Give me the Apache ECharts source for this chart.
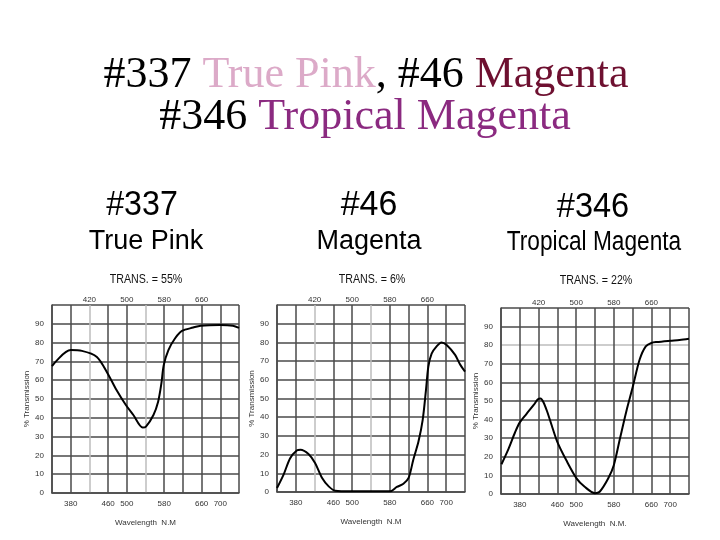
<!DOCTYPE html>
<html>
<head>
<meta charset="utf-8">
<script src="https://cdn.jsdelivr.net/npm/echarts@6/dist/echarts.min.js"></script>
<style>
  html, body { margin: 0; padding: 0; background: #fff; }
  #main { width: 720px; height: 540px; }
</style>
</head>
<body>
<div id="main"></div>
<script>
// 横轴刻度（波长 nm），每格 40
const bottomLabels = [380, 460, 500, 580, 660, 700];
const topLabels = [420, 500, 580, 660];
const yLabels = [0, 10, 20, 30, 40, 50, 60, 70, 80, 90];

// #337 True Pink
const pinkNm = [340, 380, 404, 436, 459, 478, 498, 514, 534, 541, 557, 567, 574, 579, 589, 603, 618, 642, 658, 699, 727, 740];
const pinkT  = [67.5, 76, 75.6, 72.4, 63.6, 54.8, 46.8, 41.5, 34.8, 35.3, 41.5, 48.6, 58.3, 68, 76, 82.2, 86.2, 88, 89, 89.4, 89, 87.8];

// #46 Magenta
const magNm = [340, 354, 368, 382, 390, 407, 421, 436, 450, 464, 496, 581, 595, 609, 620, 630, 641, 650, 657, 662, 669, 680, 690, 701, 719, 729, 740];
const magT  = [2.1, 9.3, 18.1, 22.2, 22.6, 20.3, 15.5, 7.5, 3, 0.7, 0.4, 0.4, 2.7, 4.4, 7.5, 17.3, 27, 38.6, 54.6, 67, 74, 78, 80, 78.6, 73.3, 68.5, 64.4];

// #346 Tropical Magenta
const tropNm = [341, 356, 370, 380, 394, 410, 418, 424, 430, 438, 448, 460, 479, 501, 518, 540, 550, 568, 580, 593, 607, 620, 635, 648, 660, 671, 700, 720, 740];
const tropT  = [16, 24.3, 33.2, 38.5, 43, 48, 50.8, 51.3, 49.5, 44.5, 36.8, 27.9, 18.1, 8.3, 3.9, 0.4, 1.2, 8.3, 15.5, 29.7, 44.8, 57.2, 72.3, 79.4, 81.2, 81.7, 82.4, 82.8, 83.5];

const panels = [
  { num: "#337", name: "True Pink", trans: "TRANS. = 55%", nm: pinkNm, t: pinkT,
    grid: { left: 52, top: 305, width: 187, height: 188 }, xName: "Wavelength  N.M",
    lightX: [2, 5], lightY: [], head: [142, 205, 0.92, 146, 242, 1, 146, 279] },
  { num: "#46", name: "Magenta", trans: "TRANS. = 6%", nm: magNm, t: magT,
    grid: { left: 277, top: 305, width: 188, height: 187 }, xName: "Wavelength  N.M",
    lightX: [2, 5], lightY: [], head: [369, 205, 0.97, 369, 242, 1, 372, 279] },
  { num: "#346", name: "Tropical Magenta", trans: "TRANS. = 22%", nm: tropNm, t: tropT,
    grid: { left: 501, top: 308, width: 188, height: 186 }, xName: "Wavelength  N.M.",
    lightX: [], lightY: [8], head: [593, 207, 0.93, 594, 243, 0.84, 596, 280] }
];

const dark = "#4a4a4a";
const light = "#bdbdbd";
function lineColors(n, lightIdx) {
  let arr = [];
  for (let i = 0; i < n; i++) arr.push(lightIdx.indexOf(i) >= 0 ? light : dark);
  return arr;
}

const axisText = { fontFamily: "Liberation Sans", fontSize: 8, color: "#333" };
const serif = { fontFamily: "Liberation Serif", fontSize: 44, fontWeight: "normal", lineHeight: 44 };

let option = {
  backgroundColor: "#fff",
  animation: false,
  title: [
    {
      left: 361, top: 48, textAlign: "center",
      text: "{k|#337 }{p|True Pink}{k|, #46 }{m|Magenta}",
      textStyle: {
        fontWeight: "normal",
        rich: {
          k: Object.assign({ color: "#000" }, serif),
          p: Object.assign({ color: "#dcaac8" }, serif),
          m: Object.assign({ color: "#6e1030" }, serif)
        }
      }
    },
    {
      left: 360, top: 90, textAlign: "center",
      text: "{k|#346 }{t|Tropical Magenta}",
      textStyle: {
        fontWeight: "normal",
        rich: {
          k: Object.assign({ color: "#000" }, serif),
          t: Object.assign({ color: "#8b2a80" }, serif)
        }
      }
    }
  ],
  graphic: [],
  grid: [],
  xAxis: [],
  yAxis: [],
  series: []
};

panels.forEach((p, i) => {
  const h = p.head;
  // 每个图的标题：编号、名称、透光率
  option.graphic.push(
    { type: "text", x: h[0], y: h[1], scaleX: h[2],
      style: { text: p.num, font: "35px 'Liberation Sans'", fill: "#000", align: "center", verticalAlign: "middle" } },
    { type: "text", x: h[3], y: h[4], scaleX: h[5],
      style: { text: p.name, font: "27px 'Liberation Sans'", fill: "#000", align: "center", verticalAlign: "middle" } },
    { type: "text", x: h[6], y: h[7], scaleX: 0.82,
      style: { text: p.trans, font: "13px 'Liberation Sans'", fill: "#111", align: "center", verticalAlign: "middle" } }
  );

  option.grid.push(p.grid);

  // 下方横轴
  option.xAxis.push({
    type: "value", gridIndex: i, min: 340, max: 740, interval: 40,
    name: p.xName, nameLocation: "middle", nameGap: 26,
    nameTextStyle: axisText,
    axisLine: { show: true, lineStyle: { color: dark, width: 1.5 } },
    axisTick: { show: false },
    axisLabel: Object.assign({ margin: 7, showMinLabel: true, showMaxLabel: true,
      formatter: (v) => (bottomLabels.indexOf(v) >= 0 ? String(v) : "") }, axisText),
    splitLine: { show: true, lineStyle: { color: lineColors(11, p.lightX), width: 1.5 } }
  });
  // 上方横轴
  option.xAxis.push({
    type: "value", gridIndex: i, position: "top", min: 340, max: 740, interval: 40,
    axisLine: { show: false }, axisTick: { show: false }, splitLine: { show: false },
    axisLabel: Object.assign({ margin: 1,
      formatter: (v) => (topLabels.indexOf(v) >= 0 ? String(v) : "") }, axisText)
  });

  option.yAxis.push({
    type: "value", gridIndex: i, min: 0, max: 100, interval: 10,
    name: "% Transmission", nameLocation: "middle", nameGap: 19, nameRotate: 90,
    nameTextStyle: axisText,
    axisLine: { show: true, lineStyle: { color: dark, width: 1.5 } },
    axisTick: { show: false },
    axisLabel: Object.assign({ margin: 8,
      formatter: (v) => (yLabels.indexOf(v) >= 0 ? String(v) : "") }, axisText),
    splitLine: { show: true, lineStyle: { color: lineColors(11, p.lightY), width: 1.5 } }
  });

  option.series.push({
    type: "line", xAxisIndex: i * 2, yAxisIndex: i,
    data: p.nm.map((x, k) => [x, p.t[k]]),
    smooth: 0.3, symbol: "none",
    lineStyle: { color: "#000", width: 2 }
  });
});

let myChart = echarts.init(document.getElementById("main"));
myChart.setOption(option);
</script>
</body>
</html>
